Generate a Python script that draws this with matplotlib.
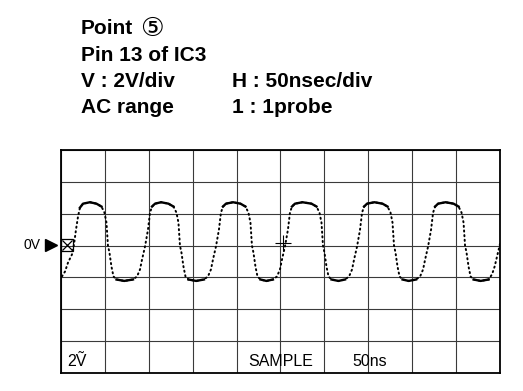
#!/usr/bin/env python3
"""
Scope screenshot: Point 5, pin 13 of IC3 (2V/div, 50nsec/div).
Trace is drawn from vertices read off the reference picture.
"""

import numpy as np
import matplotlib.pyplot as plt

plt.rcParams['font.family'] = ['Liberation Sans', 'DejaVu Sans', 'Noto Sans CJK JP']

# Header text
header_left = ['Pin 13 of IC3', 'V : 2V/div', 'AC range']
header_right = ['H : 50nsec/div', '1 : 1probe']

# Screen labels
bottom_labels = ['2\u1E7C', 'SAMPLE', '50ns']
bottom_label_t = [6.8, 213.0, 331.5]

# Trace vertices (time in ns, level in V)
trace_t = [1.1, 4.6, 8.0, 12.5, 14.8, 17.1, 19.4, 21.6, 25.1, 33.0,
           40.4, 46.1, 49.5, 51.8, 53.5, 55.2, 57.5, 59.8, 63.2, 72.0,
           82.0, 86.6, 90.0, 92.3, 95.7, 99.1, 101.4, 103.7, 107.1, 114.0,
           122.4, 128.1, 131.5, 133.8, 135.5, 137.2, 139.5, 141.8, 145.2, 154.0,
           162.8, 167.4, 170.8, 173.1, 176.5, 179.9, 182.2, 184.5, 187.9, 196.0,
           204.4, 210.1, 213.5, 215.8, 217.5, 219.2, 221.5, 223.8, 227.2, 234.0,
           241.4, 246.0, 249.4, 251.7, 255.1, 258.5, 260.8, 263.1, 266.5, 275.0,
           285.3, 291.0, 294.4, 296.7, 298.4, 300.1, 302.4, 304.7, 308.1, 316.0,
           323.5, 328.1, 331.5, 333.8, 337.2, 340.6, 342.9, 345.2, 348.6, 357.0,
           366.2, 371.9, 375.3, 377.6, 379.3, 381.0, 383.3, 385.6, 389.0, 396.0,
           404.4, 409.0, 412.4, 414.7, 418.1, 421.5, 423.8, 426.1, 429.5, 438.0,
           447.1, 452.8, 456.2, 458.5, 460.2, 461.9, 464.2, 466.5, 469.9, 478.0,
           487.0, 491.0, 494.0, 497.0, 500.0]
trace_v = [-1.94, -1.63, -1.07, -0.56, 0.06, 1.0, 1.82, 2.38, 2.63, 2.72,
           2.63, 2.45, 2.07, 1.44, 0.0, -0.44, -1.32, -1.94, -2.13, -2.22,
           -2.13, -1.94, -1.50, -0.88, -0.06, 1.0, 2.07, 2.45, 2.63, 2.72,
           2.63, 2.45, 2.07, 1.44, 0.0, -0.44, -1.32, -1.94, -2.13, -2.22,
           -2.13, -1.94, -1.50, -0.88, -0.06, 1.0, 2.07, 2.45, 2.63, 2.72,
           2.63, 2.45, 2.07, 1.44, 0.0, -0.44, -1.32, -1.94, -2.13, -2.22,
           -2.13, -1.94, -1.50, -0.88, -0.06, 1.0, 2.07, 2.45, 2.63, 2.72,
           2.63, 2.45, 2.07, 1.44, 0.0, -0.44, -1.32, -1.94, -2.13, -2.22,
           -2.13, -1.94, -1.50, -0.88, -0.06, 1.0, 2.07, 2.45, 2.63, 2.72,
           2.63, 2.45, 2.07, 1.44, 0.0, -0.44, -1.32, -1.94, -2.13, -2.22,
           -2.13, -1.94, -1.50, -0.88, -0.06, 1.0, 2.07, 2.45, 2.63, 2.72,
           2.63, 2.45, 2.07, 1.44, 0.0, -0.44, -1.32, -1.94, -2.13, -2.22,
           -2.13, -1.80, -1.30, -0.60, 0.10]

# Trigger mark
trig_t, trig_v = 252.9, 0.19


def main():
    fig = plt.figure(figsize=(5.23, 3.91), dpi=100)
    ax = fig.add_axes([0.1166, 0.046, 0.8394, 0.5704])

    # Screen: 10 x 7 divisions
    ax.set_xlim(0, 500)
    ax.set_ylim(-8, 6)
    ax.set_xticks(np.arange(0, 501, 50))
    ax.set_yticks(np.arange(-8, 7, 2))
    ax.grid(True, color='#3a3a3a', linewidth=0.8)
    ax.tick_params(length=0, labelbottom=False, labelleft=False)
    for sp in ax.spines.values():
        sp.set_linewidth(1.3)
        sp.set_color('black')

    # Sampled trace: sparse dots on the edges, dense on the flat parts
    t = np.array(trace_t)
    v = np.array(trace_v)
    ax.plot(t, v, color='black', linewidth=1.4, linestyle=(0, (0.6, 1.8)),
            dash_capstyle='round', zorder=4)
    flat = np.where(np.abs(v) >= 2.1, v, np.nan)
    ax.plot(t, flat, color='black', linewidth=1.7, zorder=4)

    ax.plot([trig_t], [trig_v], marker='+', markersize=11, color='black',
            markeredgewidth=0.8, zorder=5)

    # Ground marker at the left edge
    ax.plot([6.3], [0.03], marker='s', markersize=8, fillstyle='none',
            color='black', markeredgewidth=0.9, zorder=5, clip_on=False)
    ax.plot([6.3], [0.03], marker='x', markersize=7, color='black',
            markeredgewidth=0.9, zorder=5, clip_on=False)
    ax.plot([-10.8], [0.05], marker='>', markersize=8, color='black',
            clip_on=False)
    ax.text(-23.5, 0.05, '0V', fontsize=10, ha='right', va='center')

    for label, tx in zip(bottom_labels, bottom_label_t):
        ax.text(tx, -7.59, label, fontsize=11.5, ha='left', va='baseline')

    # Header block
    x_left, x_right = 81 / 523, 232 / 523
    base = [0.844, 0.7775, 0.711]
    fig.text(x_left, 0.913, 'Point', fontsize=15, fontweight='bold',
             va='baseline')
    fig.text(152 / 523, 0.925, '\u2464', fontsize=19, ha='center',
             va='center', family=['DejaVu Sans', 'Noto Sans CJK JP'])
    for y, s in zip(base, header_left):
        fig.text(x_left, y, s, fontsize=15, fontweight='bold', va='baseline')
    for y, s in zip(base[1:], header_right):
        fig.text(x_right, y, s, fontsize=15, fontweight='bold', va='baseline')

    fig.savefig('out.png', dpi=100)


if __name__ == '__main__':
    main()
